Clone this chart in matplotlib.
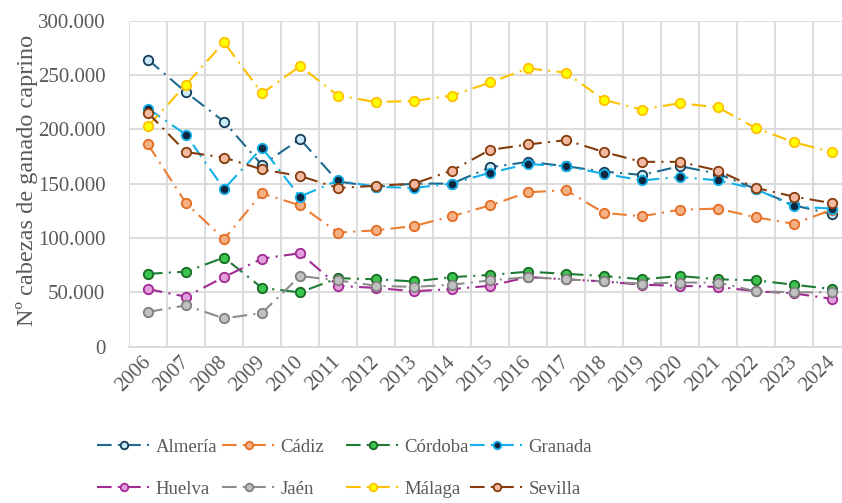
import numpy as np
import matplotlib
matplotlib.use('Agg')
import matplotlib.pyplot as plt
from matplotlib.ticker import FuncFormatter, MultipleLocator

# ---------------------------------------------------------------------------
# Data (heads of goats per province)
# ---------------------------------------------------------------------------
years = [str(y) for y in range(2006, 2025)]

almeria = [264000, 234000, 207000, 167000, 191000, 152000, 147000, 150000, 150000, 165000,
           170000, 166000, 161000, 158000, 166000, 159000, 145000, 130000, 122000]
cadiz = [186000, 132000, 99000, 141000, 130000, 105000, 107000, 111000, 120000, 130000,
         142000, 144000, 123000, 120000, 126000, 127000, 119000, 113000, 126000]
cordoba = [67000, 69000, 82000, 54000, 50000, 63000, 62000, 60000, 64000, 66000,
           69000, 67000, 65000, 62000, 65000, 62000, 61000, 57000, 53000]
granada = [219000, 195000, 145000, 183000, 138000, 153000, 147000, 146000, 150000, 160000,
           168000, 166000, 159000, 153000, 156000, 153000, 145000, 129000, 127000]
huelva = [53000, 46000, 64000, 81000, 86000, 56000, 54000, 51000, 53000, 56000,
          64000, 62000, 60000, 57000, 56000, 55000, 51000, 49000, 44000]
jaen = [32000, 38000, 26000, 31000, 65000, 61000, 56000, 55000, 57000, 61000,
        64000, 62000, 60000, 58000, 59000, 59000, 51000, 50000, 50000]
malaga = [203000, 241000, 280000, 233000, 258000, 231000, 225000, 226000, 231000, 243000,
          256000, 252000, 227000, 218000, 224000, 220000, 201000, 188000, 179000]
sevilla = [215000, 179000, 174000, 163000, 157000, 146000, 148000, 150000, 162000, 181000,
           186000, 190000, 179000, 170000, 170000, 162000, 146000, 138000, 132000]

labels = ['Almería', 'Cádiz', 'Córdoba', 'Granada', 'Huelva', 'Jaén', 'Málaga', 'Sevilla']
series = [almeria, cadiz, cordoba, granada, huelva, jaen, malaga, sevilla]

# (line colour, marker fill, marker edge)
styles = [
    ('#1F6A8E', '#C9EAF8', '#153B56'),
    ('#ED7D31', '#F4B183', '#E46C24'),
    ('#1E7B34', '#3CC54E', '#196B24'),
    ('#12B0EA', '#0E2841', '#12B0EA'),
    ('#A02B93', '#E59EDD', '#A02B93'),
    ('#8C8C8C', '#C0C0C0', '#808080'),
    ('#FFC000', '#FFFF00', '#FFC000'),
    ('#843C0C', '#F4B9A0', '#843C0C'),
]

plt.rcParams['font.family'] = ['Liberation Serif', 'DejaVu Serif']
TXT = '#595959'
GRID = '#D9D9D9'
DASH = (0, (7, 3, 1, 3))   # long dash - dot

fig = plt.figure(figsize=(8.42, 5.03), dpi=100)
ax = fig.add_axes([129 / 842, 156.3 / 503, 722 / 842, 326.2 / 503])

x = np.arange(len(years))
handles = []
for i, (vals, lab, (lc, fc, ec)) in enumerate(zip(series, labels, styles)):
    h, = ax.plot(x, vals, linestyle=DASH, color=lc, lw=1.5,
                 marker='o', markersize=6.8, markerfacecolor=fc,
                 markeredgecolor=ec, markeredgewidth=1.3, label=lab, zorder=3 + i,
                 clip_on=False)
    handles.append(h)

ax.set_xlim(-0.5, len(years) - 0.5)
ax.set_ylim(0, 300000)
ax.yaxis.set_major_locator(MultipleLocator(50000))
ax.yaxis.set_major_formatter(FuncFormatter(lambda v, p: f'{int(v):,}'.replace(',', '.')))
ax.set_xticks(x)
ax.set_xticklabels(years, rotation=45, ha='right', va='center', rotation_mode='anchor')
ax.set_xticks(np.arange(-0.5, len(years)), minor=True)

ax.grid(True, which='major', axis='y', color=GRID, lw=1.3)
ax.grid(True, which='minor', axis='x', color=GRID, lw=1.3)
ax.set_axisbelow(True)
for s in ['top', 'right', 'left']:
    ax.spines[s].set_visible(False)
ax.spines['bottom'].set_color(GRID)
ax.spines['bottom'].set_linewidth(1.3)

ax.tick_params(axis='y', length=0, pad=17, labelsize=15, labelcolor=TXT)
ax.tick_params(axis='x', which='major', length=0, pad=9, labelsize=15, labelcolor=TXT)
ax.tick_params(axis='x', which='minor', length=0)

fig.text(27 / 842, 1 - 180 / 503, 'Nº cabezas de ganado caprino', rotation=90,
         ha='center', va='center', fontsize=17.5, color=TXT)

# Legend: four columns of equal width, two rows
col_x = [100, 225, 349, 473]
for c in range(4):
    fig.legend([handles[c], handles[c + 4]], [labels[c], labels[c + 4]],
               loc='upper left', bbox_to_anchor=(col_x[c] / 842 - 0.012, 1 - 431 / 503),
               frameon=False, fontsize=13.5, labelcolor=TXT, handlelength=2.8,
               handletextpad=0.3, labelspacing=1.33, borderaxespad=0, numpoints=1,
               markerscale=0.8)

fig.savefig('out.png', dpi=100)
